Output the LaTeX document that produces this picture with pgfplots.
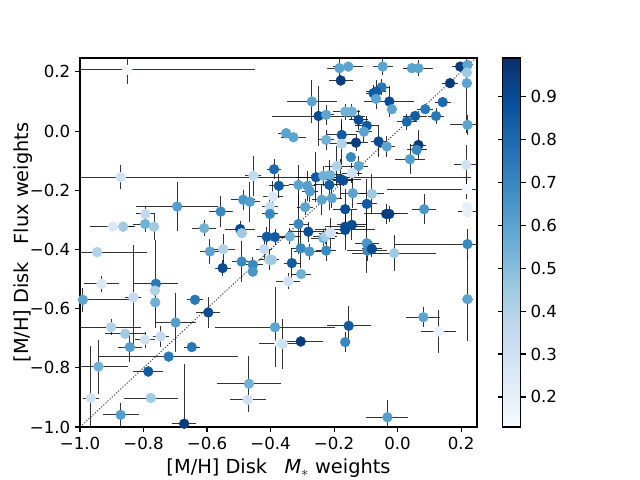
\documentclass[border=0pt]{standalone}
\usepackage{fontspec}
\setmainfont{DejaVu Sans}
\usepackage{pgfplots}
\usepackage{pgfplotstable}
\pgfplotsset{compat=1.18}

\pgfplotstableread{
x y f ex ey
-0.851 0.207 0.15 0.403 0.047
-0.872 -0.156 0.30 1.102 0.041
-0.454 -0.151 0.35 0.025 0.068
-0.389 -0.129 0.80 0.022 0.034
-0.374 -0.185 0.85 0.031 0.041
-0.393 -0.221 0.25 0.031 0.051
-0.402 -0.255 0.35 0.025 0.041
-0.402 -0.280 0.70 0.025 0.068
-0.486 -0.232 0.65 0.038 0.034
-0.465 -0.239 0.62 0.031 0.068
-0.557 -0.272 0.70 0.038 0.051
-0.694 -0.255 0.62 0.129 0.084
-0.794 -0.280 0.35 0.031 0.027
-0.795 -0.314 0.55 0.038 0.027
-0.767 -0.323 0.45 0.016 0.044
-0.864 -0.323 0.45 0.031 0.017
-0.897 -0.323 0.25 0.070 0.010
-0.609 -0.328 0.55 0.038 0.027
-0.496 -0.331 0.90 0.047 0.027
-0.491 -0.345 0.45 0.016 0.017
-0.412 -0.357 0.85 0.031 0.034
-0.386 -0.358 0.85 0.038 0.027
-0.946 -0.409 0.40 0.157 0.017
-0.932 -0.516 0.25 0.054 0.027
-0.991 -0.570 0.60 0.157 0.041
-0.832 -0.562 0.35 0.025 0.176
-0.761 -0.516 0.75 0.069 0.149
-0.764 -0.539 0.40 0.016 0.017
-0.763 -0.579 0.55 0.016 0.027
-0.638 -0.570 0.75 0.025 0.017
-0.596 -0.613 0.90 0.038 0.051
-0.699 -0.647 0.62 0.063 0.101
-0.902 -0.663 0.40 0.094 0.027
-0.858 -0.685 0.45 0.063 0.017
-0.795 -0.705 0.30 0.031 0.027
-0.746 -0.694 0.35 0.025 0.034
-0.843 -0.730 0.62 0.038 0.051
-0.648 -0.730 0.75 0.025 0.017
-0.721 -0.762 0.75 0.220 0.017
-0.942 -0.796 0.55 0.094 0.091
-0.785 -0.8125 0.85 0.047 0.017
-0.468 -0.854 0.55 0.101 0.095
-0.472 -0.908 0.30 0.057 0.017
-0.966 -0.902 0.30 0.025 0.176
-0.777 -0.902 0.45 0.085 0.017
-0.872 -0.959 0.62 0.057 0.041
-0.672 -0.989 0.95 0.038 0.203
-0.591 -0.407 0.60 0.031 0.041
-0.549 -0.399 0.40 0.038 0.051
-0.551 -0.463 0.90 0.025 0.027
-0.491 -0.441 0.70 0.031 0.068
-0.456 -0.452 0.70 0.031 0.027
-0.456 -0.475 0.65 0.016 0.017
-0.420 -0.399 0.35 0.025 0.041
-0.404 -0.435 0.40 0.031 0.034
-0.386 -0.663 0.60 0.189 0.135
-0.372 -0.717 0.20 0.063 0.017
-0.339 -0.356 0.55 0.031 0.027
-0.281 -0.340 0.90 0.063 0.034
-0.234 -0.362 0.55 0.038 0.027
-0.210 -0.345 0.25 0.038 0.051
-0.165 -0.334 0.90 0.094 0.068
-0.305 -0.396 0.70 0.031 0.068
-0.278 -0.407 0.65 0.047 0.027
-0.225 -0.404 0.70 0.031 0.034
-0.097 -0.379 0.65 0.038 0.101
-0.095 -0.404 0.70 0.063 0.034
-0.081 -0.398 0.90 0.031 0.027
-0.011 -0.4125 0.45 0.132 0.061
0.220 -0.382 0.70 0.227 0.051
-0.396 -0.435 0.45 0.016 0.017
-0.333 -0.446 0.85 0.025 0.051
-0.304 -0.483 0.55 0.031 0.017
-0.344 -0.508 0.30 0.038 0.027
0.220 -0.568 0.60 0.016 0.142
0.081 -0.629 0.60 0.054 0.034
0.129 -0.677 0.20 0.054 0.074
-0.154 -0.658 0.85 0.069 0.068
-0.165 -0.713 0.70 0.016 0.034
-0.305 -0.711 0.95 0.069 0.017
-0.362 -0.719 0.30 0.016 0.084
-0.032 -0.967 0.62 0.066 0.057
-0.183 0.2125 0.60 0.038 0.034
-0.155 0.218 0.60 0.047 0.017
-0.047 0.218 0.60 0.031 0.027
0.045 0.2125 0.60 0.025 0.017
0.0655 0.2125 0.60 0.047 0.027
0.197 0.218 0.95 0.025 0.017
0.220 0.2236 0.60 0.016 0.017
0.218 0.198 0.45 0.016 0.017
-0.179 0.171 0.95 0.038 0.017
0.165 0.162 0.95 0.025 0.017
0.218 0.162 0.60 0.016 0.170
-0.050 0.148 0.75 0.025 0.027
-0.068 0.133 0.85 0.031 0.041
-0.076 0.128 0.85 0.025 0.027
-0.068 0.109 0.60 0.016 0.034
-0.026 0.100 0.90 0.079 0.051
-0.018 0.074 0.60 0.016 0.017
-0.270 0.100 0.60 0.079 0.071
0.142 0.098 0.80 0.025 0.017
0.087 0.074 0.75 0.025 0.017
0.055 0.051 0.85 0.038 0.017
0.029 0.032 0.80 0.031 0.027
0.121 0.051 0.75 0.025 0.027
-0.249 0.051 0.90 0.145 0.101
-0.225 0.055 0.60 0.025 0.034
-0.165 0.066 0.55 0.038 0.027
-0.144 0.066 0.55 0.025 0.027
-0.123 0.038 0.90 0.031 0.034
-0.097 0.018 0.85 0.038 0.034
-0.106 -0.002 0.60 0.025 0.034
-0.351 -0.007 0.60 0.025 0.017
-0.328 -0.021 0.60 0.038 0.017
-0.176 -0.013 0.85 0.047 0.041
-0.225 -0.030 0.55 0.025 0.034
-0.176 -0.043 0.40 0.038 0.084
-0.131 -0.039 0.95 0.038 0.027
-0.060 -0.035 0.90 0.025 0.051
-0.034 -0.052 0.60 0.025 0.034
0.0655 -0.047 0.95 0.025 0.051
0.060 -0.0635 0.70 0.031 0.017
0.039 -0.095 0.62 0.047 0.051
-0.147 -0.088 0.70 0.016 0.017
0.220 0.021 0.60 0.054 0.034
0.216 -0.114 0.30 0.038 0.068
-0.1915 -0.118 0.40 0.038 0.068
-0.123 -0.118 0.60 0.031 0.034
-0.144 -0.142 0.30 0.031 0.034
-0.257 -0.156 0.85 0.063 0.084
-0.234 -0.151 0.55 0.038 0.034
-0.213 -0.148 0.55 0.038 0.027
-0.179 -0.1625 0.90 0.063 0.068
-0.171 -0.167 0.90 0.031 0.017
-0.312 -0.182 0.60 0.031 0.068
-0.284 -0.185 0.62 0.025 0.051
-0.276 -0.204 0.62 0.025 0.034
-0.215 -0.182 0.85 0.047 0.084
-0.141 -0.210 0.60 0.038 0.051
-0.081 -0.212 0.45 0.038 0.068
-0.239 -0.232 0.60 0.031 0.051
-0.207 -0.227 0.60 0.031 0.034
-0.291 -0.257 0.60 0.025 0.027
-0.165 -0.264 0.90 0.038 0.068
-0.097 -0.246 0.85 0.031 0.084
-0.036 -0.280 0.95 0.070 0.034
-0.026 -0.280 0.95 0.025 0.027
0.0835 -0.264 0.65 0.038 0.051
0.218 -0.196 0.15 0.252 0.034
0.218 -0.255 0.20 0.016 0.017
0.220 -0.272 0.20 0.031 0.017
-0.312 -0.314 0.70 0.031 0.101
-0.165 -0.323 0.90 0.063 0.034
-0.144 -0.317 0.90 0.047 0.051
-0.228 -0.356 0.45 0.038 0.027
-0.213 -0.343 0.30 0.025 0.017
}\datatable

\begin{document}
\begin{tikzpicture}
\path[use as bounding box] (0,0) rectangle (6.4in,4.8in);
\begin{axis}[
  at={(0.80in,0.53in)}, anchor=south west,
  scale only axis, width=3.97in, height=3.69in,
  xmin=-1, xmax=0.25, ymin=-1, ymax=0.247,
  axis line style={line width=0.8pt},
  tick align=outside, tick pos=left,
  major tick length=3.5pt,
  every tick/.style={black, line width=0.8pt},
  xtick={-1,-0.8,-0.6,-0.4,-0.2,0,0.2},
  xticklabels={−1.0,−0.8,−0.6,−0.4,−0.2,0.0,0.2},
  ytick={-1,-0.8,-0.6,-0.4,-0.2,0,0.2},
  yticklabels={−1.0,−0.8,−0.6,−0.4,−0.2,0.0,0.2},
  ticklabel style={font=\fontsize{12}{14}\selectfont},
  label style={font=\fontsize{14}{17}\selectfont},
  xlabel={[M/H] Disk\hspace{0.9em}\textit{M}$_*$ weights},
  ylabel={[M/H] Disk\hspace{0.9em}Flux weights},
  ylabel style={yshift=-0.12in},
  colormap={blues}{rgb255=(247,251,255) rgb255=(222,235,247) rgb255=(198,219,239) rgb255=(158,202,225) rgb255=(107,174,214) rgb255=(66,146,198) rgb255=(33,113,181) rgb255=(8,81,156) rgb255=(8,48,107)},
  point meta min=0.13, point meta max=0.99,
  colorbar,
  colorbar style={
    at={(parent axis.north east)}, anchor=north west, xshift=0.14in,
    scale only axis,
    width=0.18in,
    axis line style={line width=0.8pt},
    ytick={0.2,0.3,0.4,0.5,0.6,0.7,0.8,0.9},
    yticklabels={0.2,0.3,0.4,0.5,0.6,0.7,0.8,0.9},
    tick align=outside, major tick length=3.5pt,
    yticklabel style={font=\fontsize{12}{14}\selectfont},
  },
]
\addplot[black, line width=0.8pt, opacity=0.7, dash pattern=on 0.8pt off 1.3pt] coordinates {(-1,-1) (0.25,0.25)};
\addplot[scatter, only marks, mark=*, mark size=3.5pt, scatter src=explicit,
  scatter/use mapped color={draw=mapped color, fill=mapped color}]
  table[x=x, y=y, meta=f]{\datatable};
\addplot[draw=none, mark=none,
  error bars/.cd, x dir=both, x explicit, y dir=both, y explicit,
  error mark=none, error bar style={draw=black, solid, line width=0.7pt, opacity=0.8}]
  table[x=x, y=y, x error=ex, y error=ey]{\datatable};
\node[rotate=-90, font=\fontsize{14}{17}\selectfont] at (rel axis cs:1.237,0.5) {$\textit{f}^{\,\textit{disk}}_{\textit{M}_*}$};
\end{axis}
\end{tikzpicture}
\end{document}
